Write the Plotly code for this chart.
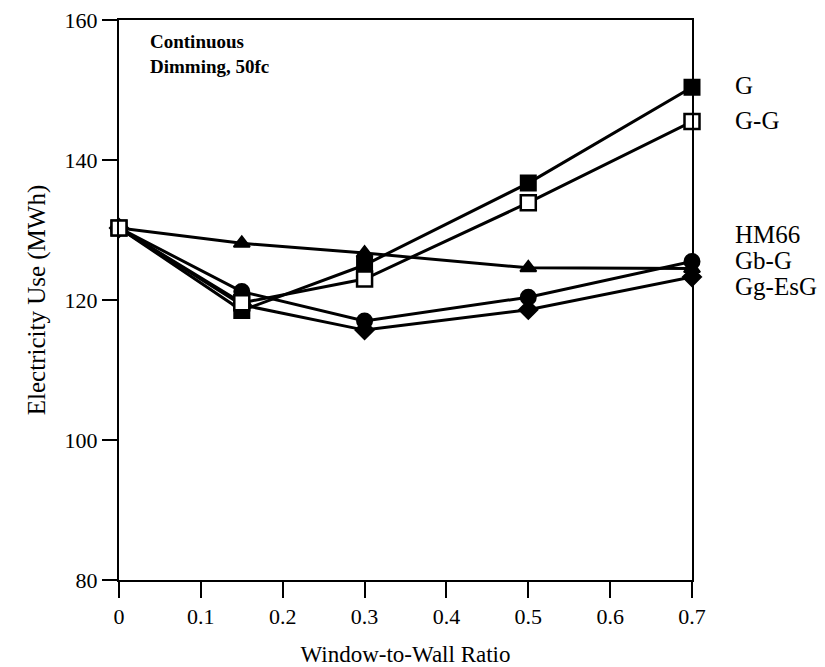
import plotly.graph_objects as go

wwr = [0, 0.15, 0.3, 0.5, 0.7]
g_vals = [130.3, 118.5, 125.0, 136.7, 150.4]
gg_vals = [130.3, 119.6, 123.0, 133.9, 145.5]
hm66_vals = [130.3, 128.1, 126.7, 124.6, 124.5]
gbg_vals = [130.3, 121.2, 117.0, 120.4, 125.5]
ggesg_vals = [130.3, 119.3, 115.7, 118.6, 123.3]

series_names = ["G", "G-G", "HM66", "Gb-G", "Gg-EsG"]
label_y = [150.6, 145.7, 129.3, 125.6, 121.9]

x_ticks = [0, 0.1, 0.2, 0.3, 0.4, 0.5, 0.6, 0.7]
x_tick_text = ["0", "0.1", "0.2", "0.3", "0.4", "0.5", "0.6", "0.7"]
y_ticks = [80, 100, 120, 140, 160]

serif = "Liberation Serif, Times New Roman, serif"

fig = go.Figure()

def add(vals, symbol, size, color="black", lw=2):
    fig.add_trace(go.Scatter(
        x=wwr, y=vals, mode="lines+markers",
        line=dict(color="black", width=3),
        marker=dict(symbol=symbol, size=size, color=color,
                    line=dict(color="black", width=lw)),
        showlegend=False, cliponaxis=False))

add(g_vals, "square", 15)
add(ggesg_vals, "diamond", 14)
add(gbg_vals, "circle", 15)
add(hm66_vals, "triangle-up", 14)
add(gg_vals, "square", 15, color="white", lw=2.5)

for name, yv in zip(series_names, label_y):
    fig.add_annotation(x=1.0, xref="paper", xshift=41, y=yv, yref="y",
                       text=name, showarrow=False, xanchor="left",
                       font=dict(family=serif, size=25, color="black"))

fig.add_annotation(x=0.05, xref="paper", y=0.984, yref="paper",
                   text="<b>Continuous<br>Dimming, 50fc</b>", showarrow=False,
                   xanchor="left", yanchor="top", align="left",
                   font=dict(family=serif, size=19, color="black"))

# scan gap in bottom axis
fig.add_shape(type="rect", xref="x", yref="y", x0=0.044, x1=0.071,
              y0=78.5, y1=81.5, fillcolor="white", line=dict(width=0),
              layer="above")

fig.update_layout(
    width=825, height=667,
    margin=dict(l=119, r=133, t=20, b=87),
    paper_bgcolor="white", plot_bgcolor="white",
    font=dict(family=serif, color="black", size=22),
    xaxis=dict(range=[0, 0.7], tickvals=x_ticks, ticktext=x_tick_text,
               showgrid=False, zeroline=False, showline=True, linecolor="black",
               linewidth=2, mirror=True, ticks="outside", ticklen=16, tickwidth=1.5,
               tickcolor="black", tickfont=dict(family=serif, size=22),
               automargin=False,
               title=dict(text="Window-to-Wall Ratio", font=dict(family=serif, size=23),
                          standoff=18)),
    yaxis=dict(range=[80, 160], tickvals=y_ticks,
               showgrid=False, zeroline=False, showline=True, linecolor="black",
               linewidth=2, mirror=True, ticks="outside", ticklen=15, tickwidth=1.5,
               tickcolor="black", tickfont=dict(family=serif, size=22),
               automargin=False,
               title=dict(text="Electricity Use (MWh)", font=dict(family=serif, size=25),
                          standoff=12)),
)

fig.write_html("out.html")
